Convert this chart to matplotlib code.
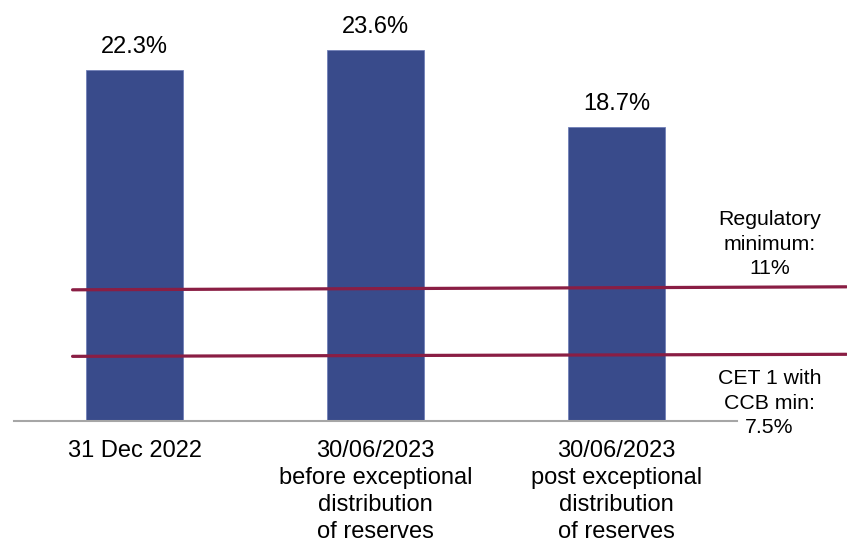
import matplotlib.pyplot as plt

plt.rcParams['font.family'] = ['Liberation Sans', 'DejaVu Sans']

categories = ['31 Dec 2022',
              '30/06/2023\nbefore exceptional\ndistribution\nof reserves',
              '30/06/2023\npost exceptional\ndistribution\nof reserves']
values = [22.3, 23.6, 18.7]
value_labels = ['22.3%', '23.6%', '18.7%']

# reference lines as drawn in the picture (left end, right end), in bar units
reg_min_line = [8.34, 8.53]
ccb_min_line = [4.11, 4.24]
line_x = [-0.257, 2.954]
reg_min_text = 'Regulatory\nminimum:\n11%'
ccb_min_text = 'CET 1 with\nCCB min:\n7.5%'

W, H = 847, 543
fig = plt.figure(figsize=(W / 100, H / 100), dpi=100)
ax = fig.add_axes([14 / W, (H - 421) / H, (737 - 14) / W, (421 - 12) / H])

x = range(len(categories))
ax.bar(x, values, width=0.4, color='#394B8B', edgecolor='#7080B8', linewidth=0.6, zorder=2)
for xi, v, lab in zip(x, values, value_labels):
    ax.text(xi, v + 1.08, lab, ha='center', va='baseline', fontsize=17)

ax.set_xlim(-0.5, 2.5)
ax.set_ylim(0, 26)

red = '#8A1E44'
ax.plot(line_x, reg_min_line, color=red, lw=2.3, clip_on=False, zorder=3, solid_capstyle='round')
ax.plot(line_x, ccb_min_line, color=red, lw=2.3, clip_on=False, zorder=3, solid_capstyle='round')

ax.text(2.635, 11.25, reg_min_text, ha='center', va='center', fontsize=15.3, linespacing=1.36)
ax.text(2.635, 1.14, ccb_min_text, ha='center', va='center', fontsize=15.3, linespacing=1.36)

for s in ['top', 'right', 'left']:
    ax.spines[s].set_visible(False)
ax.spines['bottom'].set_color('#A6A6A6')
ax.spines['bottom'].set_linewidth(1.5)
ax.set_yticks([])
ax.set_xticks(list(x))
ax.set_xticklabels(categories, fontsize=17, linespacing=1.29)
ax.tick_params(axis='x', length=0, pad=14)

fig.savefig('out.png', dpi=100)
